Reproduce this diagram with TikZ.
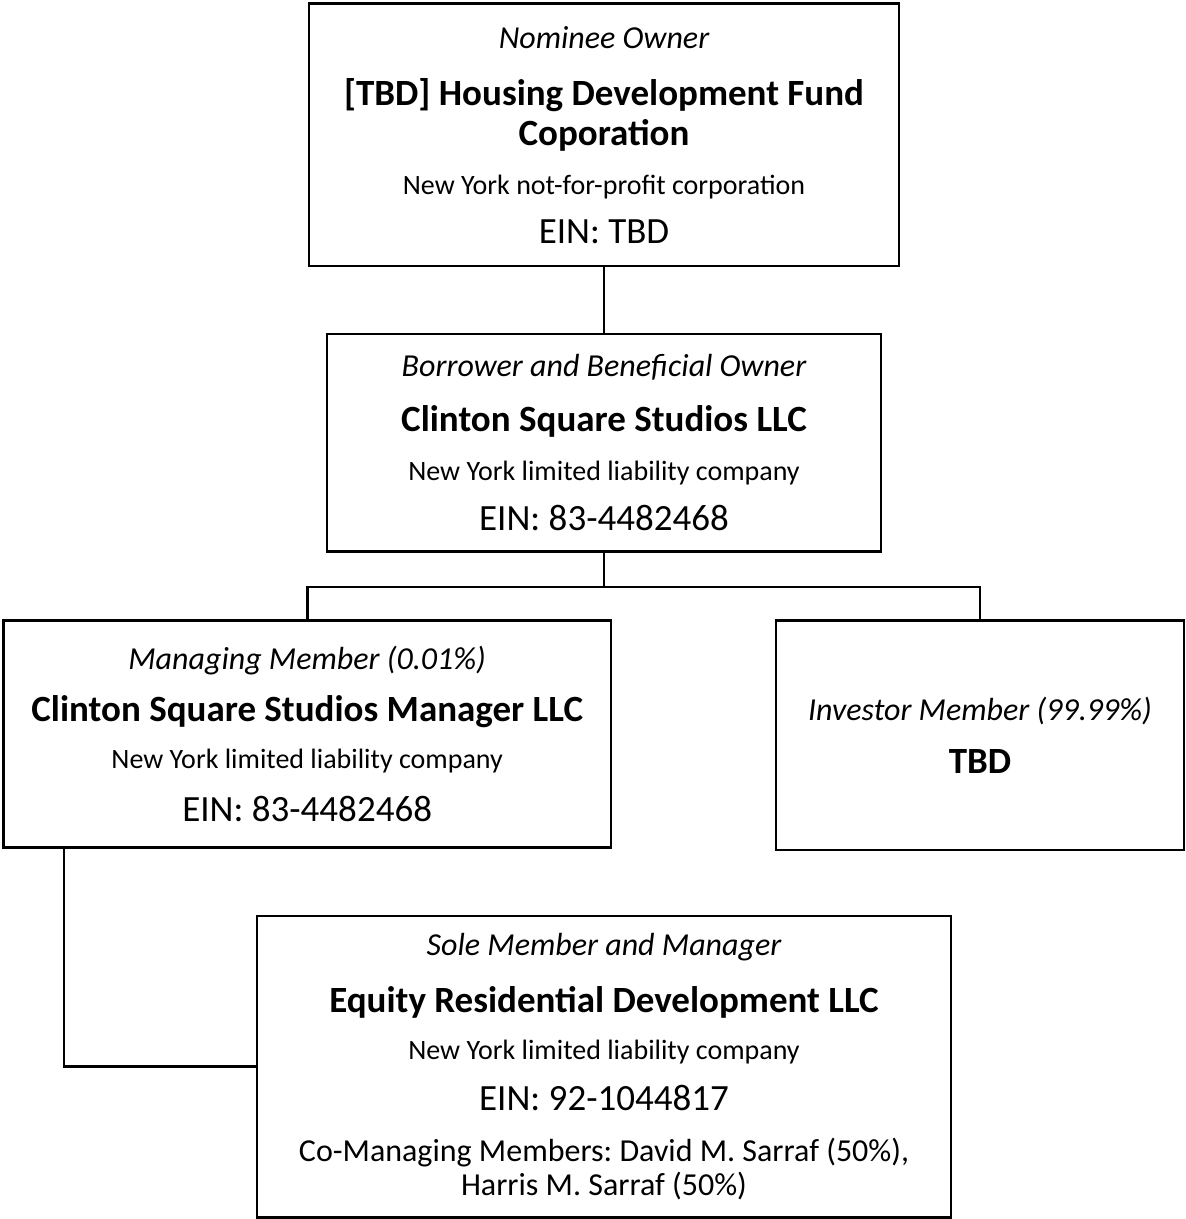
\documentclass[tikz,border=0pt]{standalone}
\usepackage{fontspec}
\setmainfont{Carlito}
\usepackage{tikz}

\newcommand{\rolefont}{\fontsize{16pt}{20pt}\selectfont\itshape}
\newcommand{\namefont}{\fontsize{18.5pt}{20pt}\selectfont\bfseries}
\newcommand{\kindfont}{\fontsize{14pt}{20pt}\selectfont}
\newcommand{\einfont}{\fontsize{18.5pt}{20pt}\selectfont}
\newcommand{\notefont}{\fontsize{16pt}{20pt}\selectfont}
\frenchspacing

\begin{document}
\begin{tikzpicture}[
    x=0.5pt, y=-0.5pt,
    every node/.style={font=\fontsize{14pt}{20pt}\selectfont},
    entity/.style={
        rectangle, draw=black, fill=white, line width=1.35pt,
        align=center, inner sep=0pt
    },
    link/.style={draw=black, line width=1.35pt}
]
\useasboundingbox (0,0) rectangle (1186,1219);

\node[entity, minimum width=295pt, minimum height=131.3pt] (hdfc) at (604,134.7) {
    {\rolefont Nominee Owner}\\[8.5pt]
    {\namefont [TBD] Housing Development Fund}\\
    {\namefont Coporation}\\[4.5pt]
    {\kindfont New York not-for-profit corporation}\\[4.5pt]
    {\einfont EIN: TBD}
};

\node[entity, minimum width=277pt, minimum height=108.85pt] (borrower) at (604,442.85) {
    {\rolefont Borrower and Beneficial Owner}\\[7.5pt]
    {\namefont Clinton Square Studios LLC}\\[4.5pt]
    {\kindfont New York limited liability company}\\[5pt]
    {\einfont EIN: 83-4482468}
};

\node[entity, minimum width=303.85pt, minimum height=113.5pt] (manager) at (307.15,734) {
    {\rolefont Managing Member (0.01\%)}\\[6pt]
    {\namefont Clinton Square Studios Manager LLC}\\[3.5pt]
    {\kindfont New York limited liability company}\\[6.5pt]
    {\einfont EIN: 83-4482468}
};

\node[entity, minimum width=204pt, minimum height=114.75pt] (investor) at (980,735.25) {
    {\rolefont Investor Member (99.99\%)}\\[6.5pt]
    {\namefont TBD}
};

\node[entity, minimum width=347pt, minimum height=150.75pt] (developer) at (604,1066.75) {
    {\rolefont Sole Member and Manager}\\[8.5pt]
    {\namefont Equity Residential Development LLC}\\[3.5pt]
    {\kindfont New York limited liability company}\\[5.5pt]
    {\einfont EIN: 92-1044817}\\[5.5pt]
    {\notefont Co-Managing Members: David M. Sarraf (50\%),}\\[-3pt]
    {\notefont Harris M. Sarraf (50\%)}
};

\draw[link] (hdfc) -- (borrower);
\draw[link] (borrower.south) -- ++(0,-17pt) coordinate (split);
\draw[link] (manager.north) |- (split) -| (investor.north);
\draw[link] ([xshift=31pt]manager.south west) |- (developer.west);

\end{tikzpicture}
\end{document}
